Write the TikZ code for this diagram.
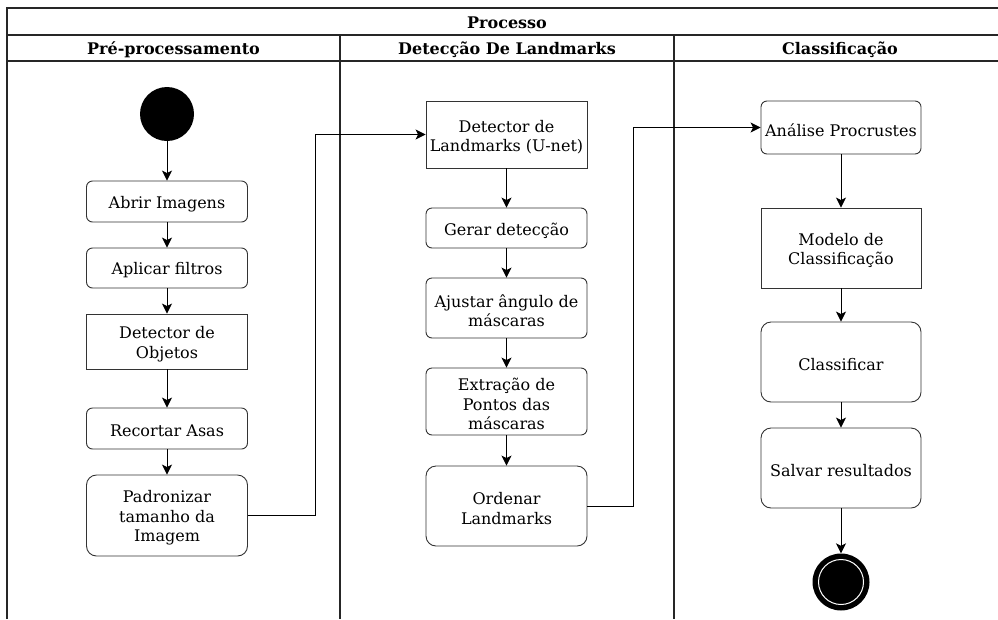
\documentclass[tikz,border=0pt]{standalone}
\usepackage{fontspec}
\setmainfont{DejaVu Serif}
\usetikzlibrary{arrows.meta,positioning}
% activity box: frame node plus its centred label, set slightly low
\newcommand\actbox[4][act]{%
  \node[#1] (#2) at (#3) {};
  \node[boxtext] (#2-t) at ([yshift=-2.5pt]#2.center) {#4};}
\begin{document}
\begin{tikzpicture}[x=1pt,y=-1pt,
  font=\fontsize{16}{19.5}\selectfont,
  lane/.style={line width=1.4pt, draw=black!85},
  act/.style={draw=black!80, line width=0.9pt, rounded corners=6pt, fill=white,
    inner sep=0pt, minimum width=161pt},
  bigact/.style={act, rounded corners=10pt},
  sq/.style={act, rounded corners=0pt},
  boxtext/.style={align=center, inner sep=0pt},
  hdr/.style={font=\fontsize{16}{19}\selectfont\bfseries},
  arr/.style={draw=black, line width=0.9pt, -{Stealth[length=10pt,width=10pt,inset=2.5pt]}}
]
\clip (0,0) rectangle (998,619);
\fill[white] (0,0) rectangle (998,619);

% swimlane frame
\draw[lane] (7,619) -- (7,8) -- (1010,8);
\draw[lane] (7,35) -- (1010,35);
\draw[lane] (7,61) -- (1010,61);
\draw[lane] (340,35) -- (340,619);
\draw[lane] (674,35) -- (674,619);
\node[hdr] (title) at (507,23) {Processo};
\node[hdr] (h1) at (173.5,50) {Pré-processamento};
\node[hdr] (h2) at (507,50) {Detecção De Landmarks};
\node[hdr] (h3) at (840,50) {Classificação};

% lane 1
\node[circle, fill=black, minimum size=54pt, inner sep=0pt] (start) at (167,114) {};
\actbox[act, minimum height=41pt]{abrir}{167,201.5}{Abrir Imagens}
\actbox[act, minimum height=40pt]{filtros}{167,268}{Aplicar filtros}
\actbox[sq, minimum height=55pt]{objetos}{167,341.5}{Detector de\\Objetos}
\actbox[act, minimum height=41pt]{recortar}{167,428.5}{Recortar Asas}
\actbox[bigact, minimum height=81pt]{padron}{167,515.5}{Padronizar\\tamanho da\\Imagem}

% lane 2
\actbox[sq, minimum height=67pt]{unet}{506.5,134.5}{Detector de\\Landmarks (U-net)}
\actbox[act, minimum height=40pt]{gerar}{506.5,228}{Gerar detecção}
\actbox[act, minimum height=60pt]{ajustar}{506.5,308}{Ajustar ângulo de\\máscaras}
\actbox[act, minimum height=67pt]{extra}{506.5,401.5}{Extração de\\Pontos das\\máscaras}
\actbox[bigact, minimum height=80pt]{ordenar}{506.5,506}{Ordenar\\Landmarks}

% lane 3
\actbox[act, minimum height=53pt, minimum width=160pt]{procr}{841,127.5}{Análise Procrustes}
\actbox[sq, minimum height=80pt, minimum width=160pt]{modelo}{841,248}{Modelo de\\Classificação}
\actbox[bigact, minimum height=80pt, minimum width=160pt]{classif}{841,362}{Classificar}
\actbox[bigact, minimum height=80pt, minimum width=160pt]{salvar}{841,468}{Salvar resultados}
\node[circle, fill=black, minimum size=57pt, inner sep=0pt] (fim) at (841,582) {};
\draw[white, line width=1pt] (fim.center) circle (22.5pt);

% flow
\draw[arr] (start) -- (abrir);
\draw[arr] (abrir) -- (filtros);
\draw[arr] (filtros) -- (objetos);
\draw[arr] (objetos) -- (recortar);
\draw[arr] (recortar) -- (padron);
\draw[arr] (padron.east) -- ++(67,0) |- (unet.west);
\draw[arr] (unet) -- (gerar);
\draw[arr] (gerar) -- (ajustar);
\draw[arr] (ajustar) -- (extra);
\draw[arr] (extra) -- (ordenar);
\draw[arr] (ordenar.east) -- ++(46,0) |- (procr.west);
\draw[arr] (procr) -- (modelo);
\draw[arr] (modelo) -- (classif);
\draw[arr] (classif) -- (salvar);
\draw[arr] (salvar) -- (fim);
\end{tikzpicture}
\end{document}
